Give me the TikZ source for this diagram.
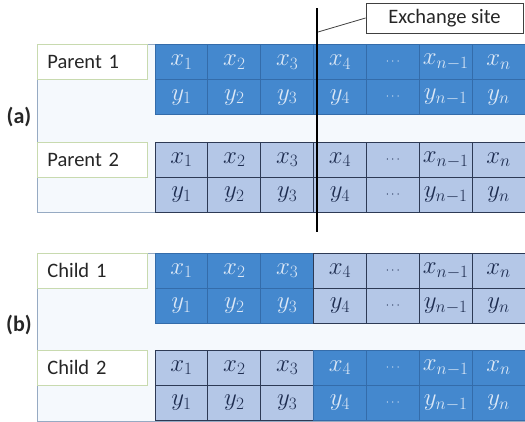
\documentclass[tikz,border=0pt]{standalone}
\usepackage[no-math]{fontspec}
\setmainfont{Carlito}
\definecolor{dkblue}{RGB}{68,136,206}
\definecolor{dkedge}{RGB}{52,108,170}
\definecolor{dktext}{RGB}{220,232,246}
\definecolor{ltblue}{RGB}{180,199,231}
\definecolor{ltedge}{RGB}{45,58,85}
\definecolor{lttext}{RGB}{30,45,80}
\definecolor{panelfill}{RGB}{245,249,253}
\definecolor{paneledge}{RGB}{150,170,195}
\definecolor{labeledge}{RGB}{200,218,175}
\newcommand{\smalldots}{{\fontsize{13}{15}\selectfont$\cdots$}}
\begin{document}
\begin{tikzpicture}[x=1pt,y=-1pt,
  cell/.style={draw, line width=0.8pt, minimum width=52.86pt, minimum height=35.2pt, inner sep=0pt, anchor=center, font=\fontsize{25}{27}\selectfont},
  dk/.style={cell, fill=dkblue, draw=dkedge, text=dktext},
  lt/.style={cell, fill=ltblue, draw=ltedge, text=lttext},
  panel/.style={draw=paneledge, fill=panelfill, line width=0.6pt},
  namebox/.style={draw=labeledge, fill=white, line width=0.8pt, anchor=west, text width=90pt, inner xsep=10pt, minimum height=35pt, align=left, font=\fontsize{20.5}{22}\selectfont, text=black!85},
  sublabel/.style={font=\fontsize{22}{24}\selectfont\bfseries, text=black!85},
  exbox/.style={draw=black!75, fill=white, line width=0.8pt, minimum width=157pt, minimum height=30pt, inner sep=0pt, font=\fontsize{20.5}{22}\selectfont, text=black!85}]
\useasboundingbox (0,0) rectangle (525,421);
% panels
\path[panel] (37,44) rectangle (526,212);
\path[panel] (37,253) rectangle (526,421);
\node[sublabel] (la) at (19,117) {(a)};
\node[sublabel] (lb) at (19,325) {(b)};
% name boxes
\node[namebox] (n1) at (37,62) {Parent 1};
\node[namebox] (n2) at (37,159.5) {Parent 2};
\node[namebox] (n3) at (37,270.5) {Child 1};
\node[namebox] (n4) at (37,367.5) {Child 2};
% cells
\foreach \i/\lx/\ly in {1/$x_1$/$y_1$, 2/$x_2$/$y_2$, 3/$x_3$/$y_3$, 4/$x_4$/$y_4$, 5/\smalldots/\smalldots, 6/$x_{n-1}$/$y_{n-1}$, 7/$x_n$/$y_n$}{
  \pgfmathsetmacro{\cx}{155+52.86*(\i-0.5)}
  \ifnum\i<4 \def\stA{dk}\def\stB{lt}\else\def\stA{lt}\def\stB{dk}\fi
  \node[dk] (p1x\i) at (\cx,62) {\lx};
  \node[dk] (p1y\i) at (\cx,97.2) {\ly};
  \node[lt] (p2x\i) at (\cx,159.6) {\lx};
  \node[lt] (p2y\i) at (\cx,194.8) {\ly};
  \node[\stA] (c1x\i) at (\cx,270.6) {\lx};
  \node[\stA] (c1y\i) at (\cx,305.8) {\ly};
  \node[\stB] (c2x\i) at (\cx,367.6) {\lx};
  \node[\stB] (c2y\i) at (\cx,402.8) {\ly};
}
% exchange site
\coordinate (extop) at (317,8);
\coordinate (exbot) at (317,232);
\coordinate (exhit) at (318,32);
\draw[line width=2.4pt, black] (extop) -- (exbot);
\node[exbox] (exsite) at (444.5,18) {Exchange site};
\draw[black!75, line width=0.8pt] (exsite.west) -- (exhit);
\end{tikzpicture}
\end{document}
